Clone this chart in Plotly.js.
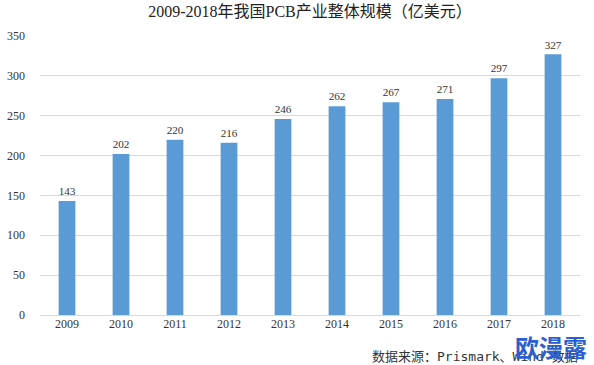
<!DOCTYPE html>
<html><head><meta charset="utf-8">
<script src="https://cdn.plot.ly/plotly-3.0.1.min.js"></script>
<style>html,body{margin:0;padding:0;background:#fff;}#c{width:594px;height:365px;}</style>
</head><body><div id="c"></div>
<script>
const years = ['2009','2010','2011','2012','2013','2014','2015','2016','2017','2018'];
const values = [143,202,220,216,246,262,267,271,297,327];
const titleText = '2009-2018年我国PCB产业整体规模（亿美元）';
const sourceText = '数据来源：Prismark、Wind 数据';
const watermark = '欧漫露';

const serif = 'Liberation Serif, DejaVu Serif, Noto Sans CJK SC, serif';
Plotly.newPlot('c', [{
  type:'bar', x: years, y: values,
  marker:{color:'#5b9bd5'},
  text: values.map(String), textposition:'outside',
  textfont:{family:serif, size:12, color:'#333'},
  cliponaxis:false, hoverinfo:'none'
}], {
  width:594, height:365,
  margin:{l:40, r:14, t:36, b:50},
  paper_bgcolor:'#fff', plot_bgcolor:'#fff',
  bargap:0.69,
  showlegend:false,
  title:{text:titleText, font:{family:serif, size:16, color:'#222'}, x:0.5, xanchor:'center', y:0.97, yanchor:'middle', xref:'paper'},
  xaxis:{type:'category', tickfont:{family:serif, size:12, color:'#333'}, showgrid:false, zeroline:false, showline:false, ticks:''},
  yaxis:{range:[0,350], dtick:50, tickfont:{family:serif, size:12, color:'#333'}, gridcolor:'#d9d9d9', gridwidth:1, zeroline:true, zerolinecolor:'#d9d9d9', showline:false, ticks:'', ticklabelstandoff:14},
  annotations:[
    {text:sourceText, xref:'paper', yref:'paper', x:1.0, y:-0.147, xanchor:'right', yanchor:'middle', showarrow:false, font:{family:'DejaVu Sans Mono, Noto Sans CJK SC, monospace', size:13, color:'#333'}},
    {text:'<b>'+watermark+'</b>', xref:'paper', yref:'paper', x:1.016, y:-0.112, xanchor:'right', yanchor:'middle', showarrow:false, font:{family:'Noto Sans CJK SC', size:24, color:'#2b5fd0'}}
  ]
}, {staticPlot:true});
</script></body></html>
